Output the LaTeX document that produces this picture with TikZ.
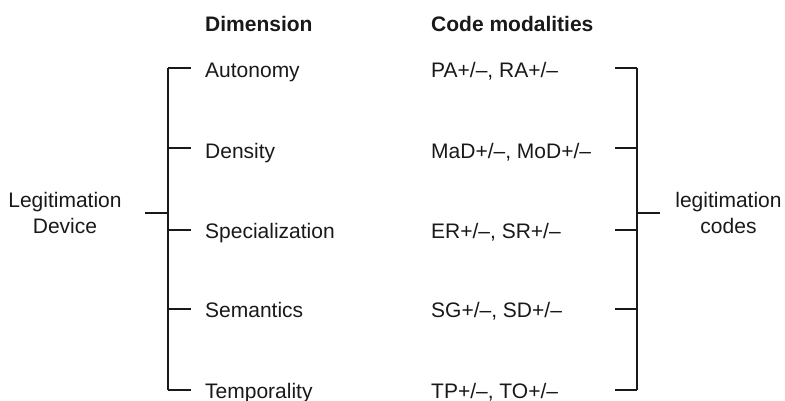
\documentclass[tikz,border=0pt]{standalone}
\usepackage{fontspec}
\setmainfont{Liberation Sans}
\begin{document}
\begin{tikzpicture}[x=1pt,y=-1pt,
  every node/.style={inner sep=0pt, font=\fontsize{21}{26}\selectfont, text=black!90},
  head/.style={anchor=base west, font=\fontsize{21}{26}\selectfont\bfseries},
  dimtext/.style={anchor=base west},
  codetext/.style={anchor=base west},
  grouplabel/.style={align=center, anchor=center},
  bracket/.style={draw=black!90, line width=1.3pt}]
\useasboundingbox (0,0) rectangle (785,400);

% column headers
\node[head] (hdim)  at (205,31) {Dimension};
\node[head] (hcode) at (431,31) {Code modalities};

% group labels
\node[grouplabel] (dev)   at (65,213)    {Legitimation\\Device};
\node[grouplabel] (codes) at (728.5,213) {legitimation\\codes};

% dimensions and their code modalities
\node[dimtext]  (d1) at (205,77)  {Autonomy};
\node[dimtext]  (d2) at (205,158) {Density};
\node[dimtext]  (d3) at (205,238) {Specialization};
\node[dimtext]  (d4) at (205,317) {Semantics};
\node[dimtext]  (d5) at (205,398) {Temporality};

\node[codetext] (c1) at (431,77)  {PA+/–, RA+/–};
\node[codetext] (c2) at (431,158) {MaD+/–, MoD+/–};
\node[codetext] (c3) at (431,238) {ER+/–, SR+/–};
\node[codetext] (c4) at (431,317) {SG+/–, SD+/–};
\node[codetext] (c5) at (431,398) {TP+/–, TO+/–};

% bracket spines and stubs
\coordinate (ltop) at (168,68);
\coordinate (lbot) at (168,390);
\coordinate (lmid) at (168,213);
\coordinate (lstub) at (145,213);
\coordinate (rtop) at (637,68);
\coordinate (rbot) at (637,390);
\coordinate (rmid) at (637,213);
\coordinate (rstub) at (660,213);

\draw[bracket] (ltop) -- (lbot);
\draw[bracket] (lstub) -- (lmid);
\draw[bracket] (rtop) -- (rbot);
\draw[bracket] (rmid) -- (rstub);

% ticks towards each row
\foreach \i/\ty in {1/68, 2/148, 3/230, 4/309, 5/390} {
  \coordinate (lt\i) at (168,\ty);
  \coordinate (le\i) at (191,\ty);
  \coordinate (rt\i) at (637,\ty);
  \coordinate (re\i) at (615,\ty);
  \draw[bracket] (lt\i) -- (le\i);
  \draw[bracket] (re\i) -- (rt\i);
}
\end{tikzpicture}
\end{document}
